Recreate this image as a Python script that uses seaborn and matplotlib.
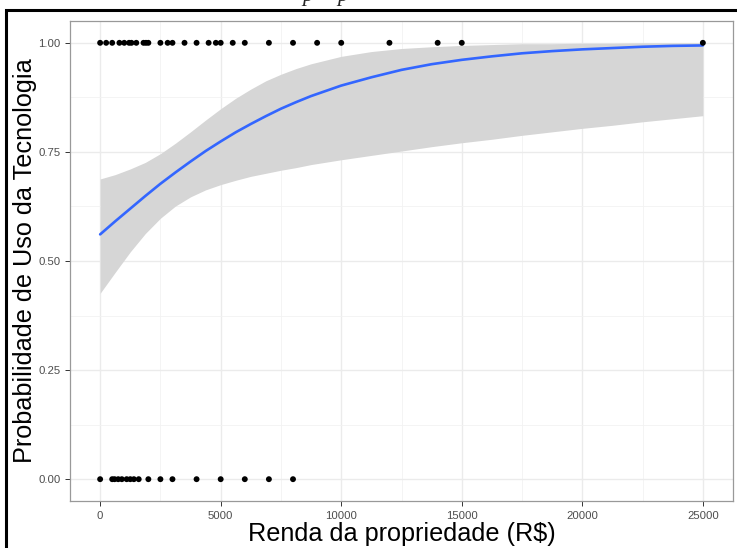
import numpy as np
import pandas as pd
import matplotlib
matplotlib.use("Agg")
import matplotlib.pyplot as plt
import seaborn as sns
from matplotlib.patches import Rectangle
from matplotlib.ticker import MultipleLocator

# ---- data ----
renda_uso = [0, 250, 500, 800, 1000, 1200, 1300, 1500, 1800, 1900, 2000, 2500,
             2800, 3000, 3500, 4000, 4500, 4800, 5000, 5500, 6000, 7000, 8000,
             9000, 10000, 12000, 14000, 15000, 25000]
renda_nao = [0, 500, 600, 750, 900, 1100, 1250, 1400, 1600, 2000, 2500, 3000,
             4000, 5000, 6000, 7000, 8000]

# fitted logistic curve and its 95% band
curva_renda = [0, 625, 1250, 1875, 2500, 3125, 3750, 4375, 5000, 5625, 6250, 6875,
               7500, 8125, 8750, 10000, 11250, 12500, 13750, 15000, 16250, 17500,
               18750, 20000, 21250, 22500, 23750, 25000]
curva_prob = [0.561, 0.591, 0.620, 0.649, 0.677, 0.703, 0.728, 0.752, 0.774, 0.795,
              0.814, 0.832, 0.849, 0.864, 0.878, 0.902, 0.921, 0.938, 0.951, 0.961,
              0.969, 0.976, 0.981, 0.985, 0.988, 0.991, 0.993, 0.994]
curva_inf = [0.426, 0.474, 0.521, 0.563, 0.598, 0.626, 0.647, 0.663, 0.675, 0.685,
             0.694, 0.701, 0.708, 0.714, 0.721, 0.732, 0.742, 0.752, 0.762, 0.771,
             0.779, 0.788, 0.796, 0.804, 0.811, 0.819, 0.826, 0.833]
curva_sup = [0.688, 0.698, 0.711, 0.726, 0.746, 0.770, 0.796, 0.823, 0.849, 0.873,
             0.894, 0.913, 0.928, 0.941, 0.952, 0.969, 0.980, 0.987, 0.991, 0.994,
             0.996, 0.998, 0.998, 0.999, 0.999, 1.000, 1.000, 1.000]

x_ticks = [0, 5000, 10000, 15000, 20000, 25000]
y_ticks = [0.00, 0.25, 0.50, 0.75, 1.00]
y_tick_labels = ["0.00", "0.25", "0.50", "0.75", "1.00"]

df = pd.DataFrame({
    "renda": renda_uso + renda_nao,
    "uso": [1] * len(renda_uso) + [0] * len(renda_nao),
})
fit = pd.DataFrame({"renda": curva_renda, "p": curva_prob,
                    "lo": curva_inf, "hi": curva_sup})

# ---- figure ----
sns.set_theme(style="white")
plt.rcParams["font.family"] = ["Liberation Sans", "DejaVu Sans"]
fig = plt.figure(figsize=(7.37, 5.48), dpi=100)
ax = fig.add_axes([70 / 737, 1 - 501 / 548, (733 - 70) / 737, (501 - 21) / 548])

ax.fill_between(fit["renda"], fit["lo"], fit["hi"], color="#D6D6D6", lw=0, zorder=2)
sns.lineplot(data=fit, x="renda", y="p", ax=ax, color="#3366FF", lw=1.9, zorder=3)
sns.scatterplot(data=df, x="renda", y="uso", ax=ax, color="black", s=18,
                edgecolor="none", zorder=4)

ax.set_xlim(-1250, 26250)
ax.set_ylim(-0.05, 1.05)
ax.set_xticks(x_ticks)
ax.set_xticklabels([str(t) for t in x_ticks])
ax.set_yticks(y_ticks)
ax.set_yticklabels(y_tick_labels)
ax.xaxis.set_minor_locator(MultipleLocator(2500))
ax.yaxis.set_minor_locator(MultipleLocator(0.125))
ax.grid(True, which="major", color="#EBEBEB", lw=1.0, zorder=0)
ax.grid(True, which="minor", color="#F2F2F2", lw=0.6, zorder=0)
ax.set_axisbelow(True)
for s in ax.spines.values():
    s.set_color("#999999")
    s.set_linewidth(0.9)
ax.tick_params(axis="both", which="major", length=3.5, width=0.7, color="#333333",
               labelsize=8.2, labelcolor="#4D4D4D", pad=3.5, direction="out",
               bottom=True, left=True)
ax.tick_params(axis="both", which="minor", length=0)

ax.set_xlabel("Renda da propriedade (R$)", fontsize=18.2, color="black", labelpad=1)
ax.set_ylabel("Probabilidade de Uso da Tecnologia", fontsize=18.2, color="black", labelpad=0.5)

# outer black frame (cut off at right and bottom)
fig.patches.append(Rectangle((6 / 737, -0.05), 1.2, 1 - 9.5 / 548 + 0.05,
                             transform=fig.transFigure, fill=False,
                             edgecolor="black", lw=2.2, zorder=10))
# descenders of the cut-off caption above
for xp in [308, 343]:
    fig.text(xp / 737, 1 - 1 / 548, "p", fontsize=16, style="italic",
             family=["Liberation Serif", "DejaVu Serif"], ha="center", va="baseline")

fig.savefig("out.png", dpi=100, facecolor="white")
